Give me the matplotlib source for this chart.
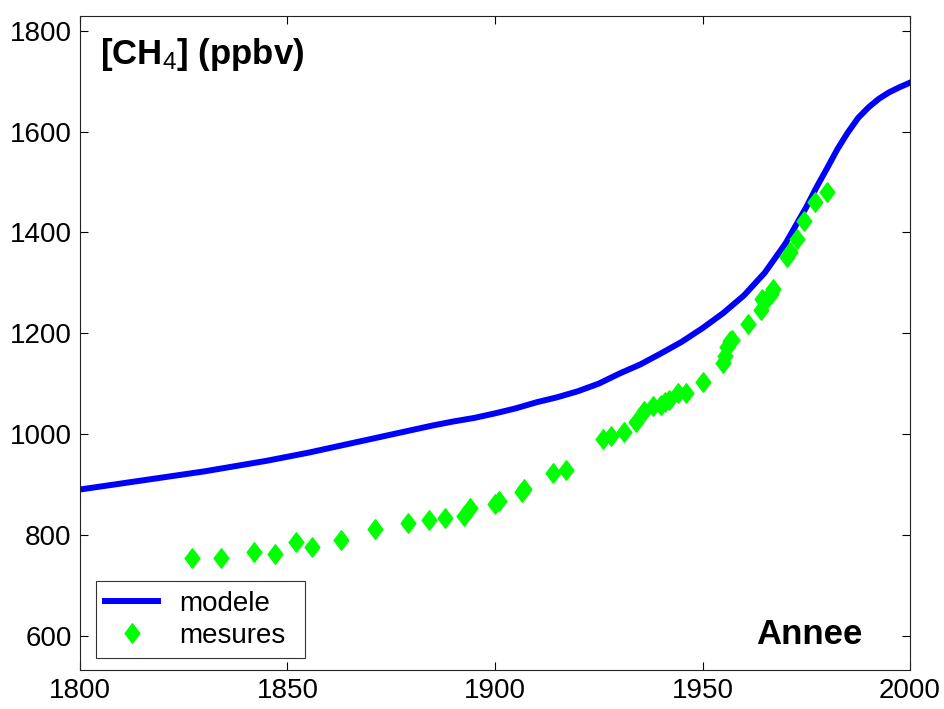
import matplotlib
matplotlib.use('Agg')
import matplotlib.pyplot as plt
from matplotlib.path import Path

# model curve
model_years = [1800, 1805, 1810, 1815, 1820, 1825, 1830, 1835, 1840, 1845,
               1850, 1855, 1860, 1865, 1870, 1875, 1880, 1885, 1890, 1895,
               1900, 1905, 1910, 1915, 1920, 1925, 1930, 1935, 1940, 1945,
               1950, 1955, 1960, 1965, 1970, 1975, 1977.5, 1980, 1982.5, 1985,
               1987.5, 1990, 1992.5, 1995, 1997.5, 2000]
model_ch4 = [890, 896, 902, 908, 914, 920, 926, 933, 940, 947,
             955, 963, 972, 981, 990, 999, 1008, 1017, 1025, 1032,
             1041, 1051, 1063, 1073, 1085, 1100, 1120, 1138, 1160, 1183,
             1210, 1240, 1275, 1320, 1378, 1450, 1490, 1527, 1565, 1598,
             1627, 1648, 1665, 1678, 1688, 1697]

# ice core measurements
meas_years = [1827, 1834, 1842, 1847, 1852, 1856, 1863, 1871, 1879, 1884,
              1888, 1892.5, 1894, 1900, 1901, 1906.5, 1907, 1914, 1917, 1926,
              1928, 1931, 1934, 1936, 1938, 1940, 1941, 1942, 1944, 1946,
              1950, 1955, 1955.5, 1956, 1956.6, 1957, 1961, 1964, 1964.3, 1965,
              1966.6, 1967, 1970.3, 1971, 1972.7, 1974.5, 1977, 1980]
meas_ch4 = [755, 755, 766, 763, 786, 775, 790, 812, 824, 829,
            834, 838, 853, 862, 868, 885, 892, 923, 929, 990,
            997, 1005, 1023, 1045, 1055, 1058, 1064, 1068, 1082, 1082,
            1103, 1140, 1155, 1172, 1184, 1187, 1218, 1247, 1267, 1263,
            1277, 1288, 1351, 1362, 1386, 1422, 1460, 1480]

x_ticks = [1800, 1850, 1900, 1950, 2000]
y_ticks = [600, 800, 1000, 1200, 1400, 1600, 1800]

plt.rcParams['font.family'] = ['Liberation Sans', 'DejaVu Sans']
plt.rcParams['mathtext.fontset'] = 'custom'
plt.rcParams['mathtext.rm'] = 'Liberation Sans'
plt.rcParams['mathtext.default'] = 'rm'

# matlab-like diamond, a bit wider than matplotlib's thin one
diamond = Path([(0, 1), (0.76, 0), (0, -1), (-0.76, 0), (0, 1)],
               [Path.MOVETO, Path.LINETO, Path.LINETO, Path.LINETO, Path.CLOSEPOLY])

fig = plt.figure(figsize=(9.44, 7.09), dpi=100)
ax = fig.add_axes([0.0847, 0.055, 0.8793, 0.923])

ax.plot(model_years, model_ch4, color='#0000ff', linewidth=4.3, label='modele')
ax.plot(meas_years, meas_ch4, linestyle='none', marker=diamond, markersize=14,
        color='#00ff00', markeredgecolor='#00ff00', label='mesures')

ax.set_xlim(1800, 2000)
ax.set_ylim(532, 1830)
ax.set_xticks(x_ticks)
ax.set_yticks(y_ticks)
ax.tick_params(direction='in', length=6, width=0.8, top=True, right=True,
               labelsize=20, pad=6)
for s in ax.spines.values():
    s.set_linewidth(0.8)
    s.set_color('#222222')

ax.text(0.024, 0.94, r'[CH$_4$] (ppbv)', transform=ax.transAxes,
        fontsize=25, fontweight='bold', va='center', ha='left')
ax.text(0.943, 0.055, 'Annee', transform=ax.transAxes,
        fontsize=25, fontweight='bold', va='center', ha='right')

# legend box stretched to the width seen in the original
leg = ax.legend(loc='lower left', bbox_to_anchor=(0.019, 0.018, 0.252, 0.1),
                mode='expand', fontsize=20,
                frameon=True, fancybox=False, edgecolor='black',
                handlelength=1.9, borderpad=0.35, labelspacing=0.2,
                handletextpad=0.75, borderaxespad=0)
leg.get_frame().set_linewidth(0.8)

fig.savefig('out.png', dpi=100)
